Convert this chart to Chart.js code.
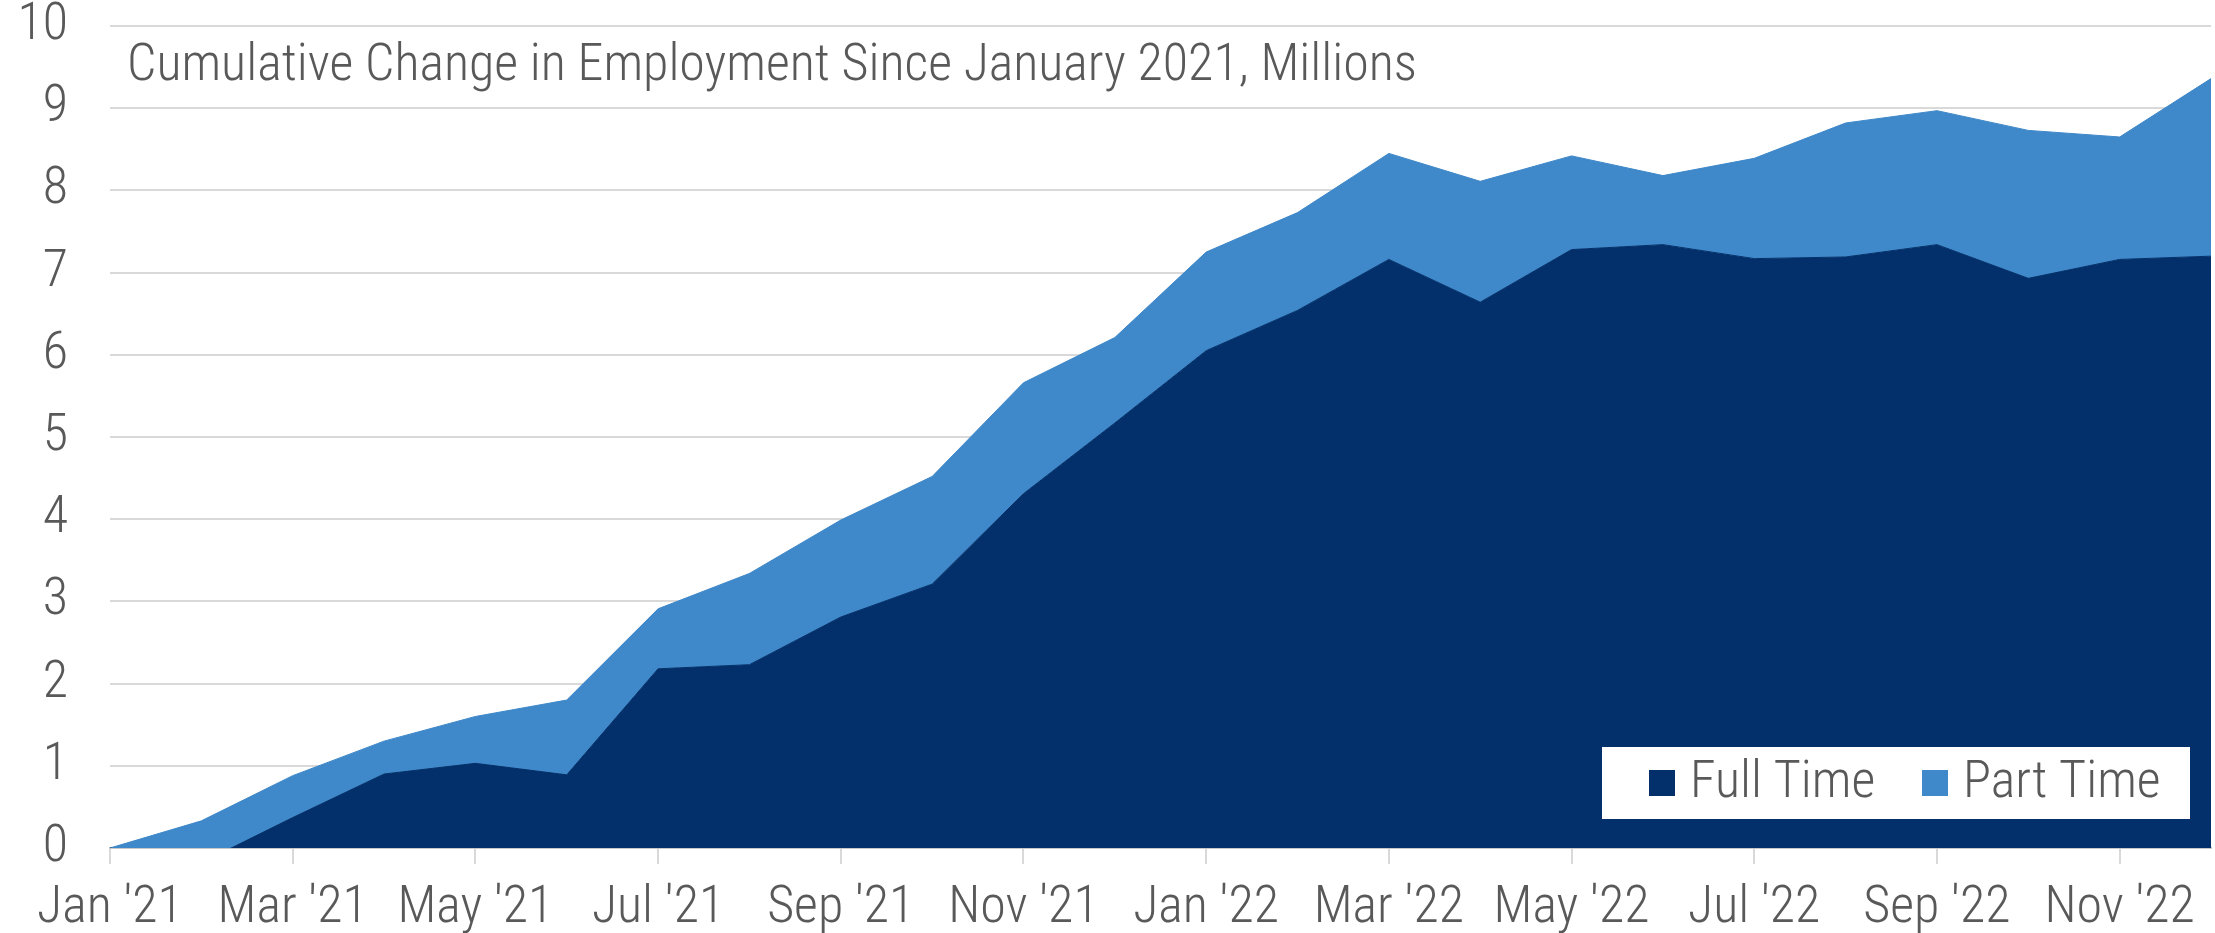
<!DOCTYPE html>
<html>
<head>
<meta charset="utf-8">
<script src="https://cdn.jsdelivr.net/npm/chart.js@4.4.1/dist/chart.umd.min.js"></script>
<style>
  html, body { margin: 0; padding: 0; background: #ffffff; }
  #wrap { width: 2215px; height: 933px; position: relative; }
</style>
</head>
<body>
<div id="wrap"><canvas id="c" width="2215" height="933"></canvas></div>
<script>
const months = ["Jan '21","Feb '21","Mar '21","Apr '21","May '21","Jun '21","Jul '21","Aug '21","Sep '21","Oct '21","Nov '21","Dec '21",
                "Jan '22","Feb '22","Mar '22","Apr '22","May '22","Jun '22","Jul '22","Aug '22","Sep '22","Oct '22","Nov '22","Dec '22"];
const fullTime = [0, -0.18, 0.37, 0.90, 1.03, 0.89, 2.18, 2.23, 2.81, 3.21, 4.31, 5.17,
                  6.05, 6.54, 7.16, 6.64, 7.28, 7.34, 7.17, 7.19, 7.34, 6.93, 7.16, 7.20];
const partTime = [0, 0.51, 0.51, 0.40, 0.57, 0.91, 0.73, 1.11, 1.18, 1.31, 1.35, 1.04,
                  1.20, 1.19, 1.29, 1.47, 1.14, 0.84, 1.22, 1.63, 1.63, 1.80, 1.49, 2.16];
const yTicks = [0,1,2,3,4,5,6,7,8,9,10];
const titleText = "Cumulative Change in Employment Since January 2021, Millions";
const seriesNames = ["Full Time", "Part Time"];
const colors = ["#03306A", "#3F88C9"];

const FONT = "'Roboto Condensed', Roboto, sans-serif";
const FS = 52;
const FW = 300;
const TXT = "#595959";

const overlayPlugin = {
  id: 'overlay',
  afterDraw(chart) {
    const ctx = chart.ctx;
    const area = chart.chartArea;
    ctx.save();
    ctx.fillStyle = TXT;
    ctx.font = FW + " " + FS + "px " + FONT;
    ctx.textBaseline = 'alphabetic';
    ctx.textAlign = 'left';
    ctx.fillText(titleText, area.left + 17, 80);
    const bx = 1602, by = 747, bw = 588, bh = 72;
    ctx.fillStyle = '#ffffff';
    ctx.fillRect(bx, by, bw, bh);
    let x = 1649;
    for (let i = 0; i < seriesNames.length; i++) {
      ctx.fillStyle = colors[i];
      ctx.fillRect(x, 770, 26, 26);
      ctx.fillStyle = TXT;
      ctx.fillText(seriesNames[i], x + 41, 797);
      x += 273;
    }
    ctx.restore();
  }
};

new Chart(document.getElementById('c'), {
  type: 'line',
  data: {
    labels: months,
    datasets: [
      { label: seriesNames[0], data: fullTime, backgroundColor: colors[0], borderColor: colors[0],
        borderWidth: 1, pointRadius: 0, fill: 'origin', tension: 0 },
      { label: seriesNames[1], data: partTime, backgroundColor: colors[1], borderColor: colors[1],
        borderWidth: 1, pointRadius: 0, fill: '-1', tension: 0 }
    ]
  },
  options: {
    responsive: false,
    animation: false,
    devicePixelRatio: 1,
    layout: { padding: { top: 26, right: 4, left: 0, bottom: 0 } },
    plugins: { legend: { display: false }, title: { display: false }, tooltip: { enabled: false } },
    scales: {
      x: {
        offset: false,
        afterFit(scale) { scale.height = 85; scale.paddingLeft = 0; scale.paddingRight = 0; },
        grid: { drawOnChartArea: false, drawTicks: true, tickLength: 16, color: '#d9d9d9', lineWidth: 2 },
        border: { display: true, color: '#c8c8c8', width: 2 },
        ticks: {
          autoSkip: false, maxRotation: 0, color: TXT, padding: 14,
          font: { family: FONT, size: FS, weight: FW },
          callback(v, i) { return i % 2 === 0 ? months[i] : null; }
        }
      },
      y: {
        stacked: 'single',
        min: 0, max: 10,
        afterFit(scale) { scale.width = 110; scale.paddingTop = 0; scale.paddingBottom = 0; },
        afterBuildTicks(scale) { scale.ticks = yTicks.map(v => ({ value: v })); },
        grid: { drawTicks: false, color: '#d9d9d9', lineWidth: 2 },
        border: { display: false },
        ticks: { color: TXT, padding: 42, font: { family: FONT, size: FS, weight: FW } }
      }
    }
  },
  plugins: [overlayPlugin]
});
</script>
</body>
</html>
